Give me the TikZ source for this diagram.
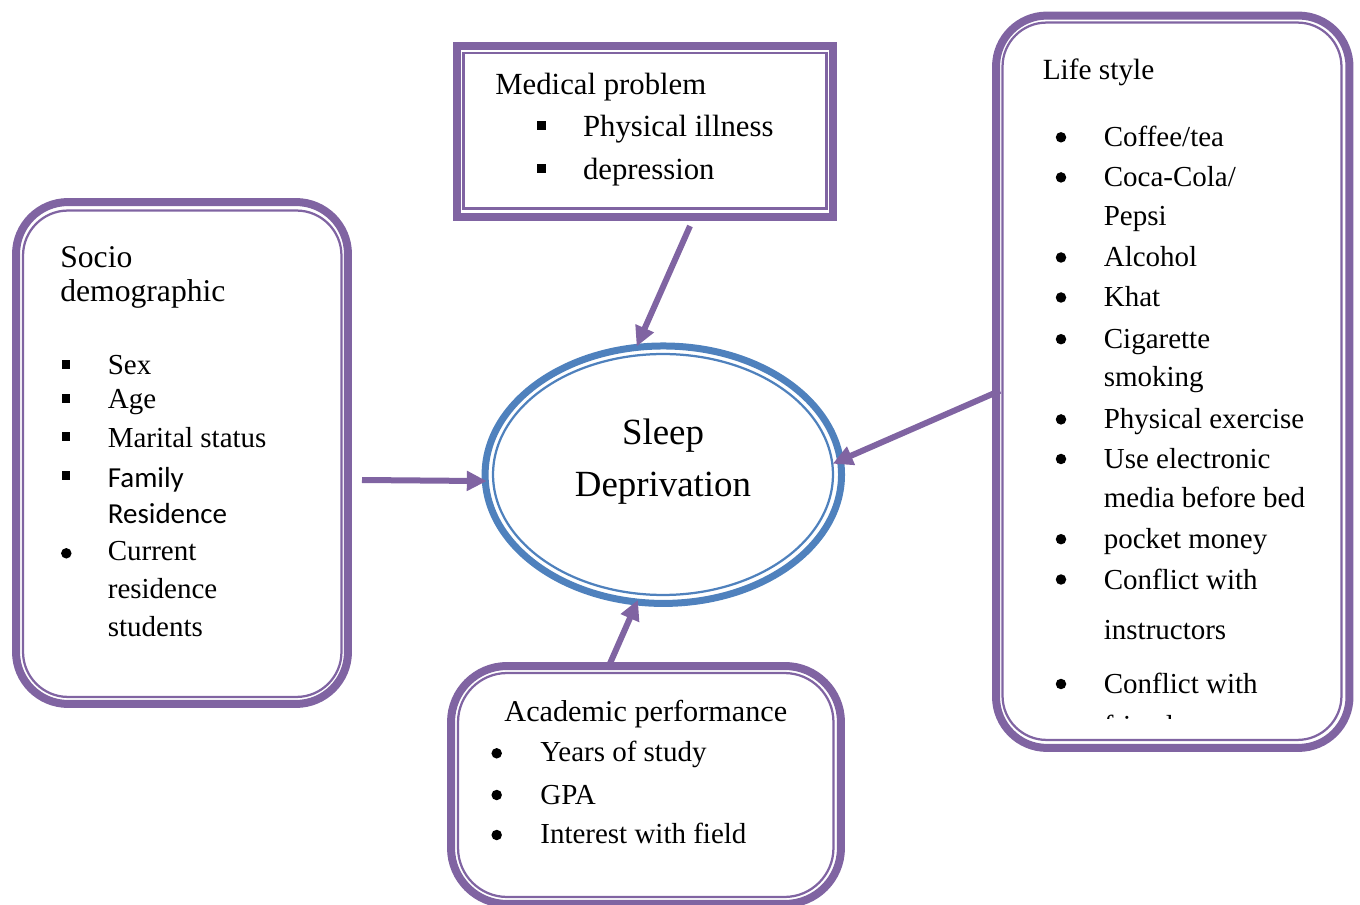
\documentclass[tikz,border=0pt]{standalone}
\usepackage{fontspec}
\setmainfont{Liberation Serif}
\newfontfamily\calib{Carlito}
\usetikzlibrary{shapes.geometric,arrows.meta}
\definecolor{lilac}{HTML}{8064A2}
\definecolor{bluish}{HTML}{4F81BD}

\begin{document}
\begin{tikzpicture}[x=0.02cm,y=-0.02cm,
	thickbox/.style={draw=lilac, line width=0.16cm, inner sep=0},
	thinbox/.style={draw=lilac, line width=0.045cm, inner sep=0},
	itm/.style={anchor=base west, inner sep=0, font=\fontsize{16.5}{20}\selectfont},
	sqbul/.style={fill=black, rectangle, minimum size=0.18cm, inner sep=0},
	rdbul/.style={fill=black, circle, minimum size=0.21cm, inner sep=0},
	arr/.style={draw=lilac, line width=0.12cm, -{Triangle[length=0.4cm,width=0.38cm]}}]
					%\draw[help lines] (0,0) grid[step=50] (1360,905);
					\useasboundingbox (0,0) rectangle (1360,905);
					
					%SLEEP DEPRIVATION
					\node[ellipse, draw=bluish, line width=0.14cm, minimum width=7.13cm, minimum height=5.15cm, inner sep=0] (sleep) at (663.3,474.7) {};
					\node[ellipse, draw=bluish, line width=0.045cm, minimum width=6.8cm, minimum height=4.82cm, inner sep=0] (sleepin) at (663,474.5) {};
					\node[anchor=base, inner sep=0, font=\fontsize{21}{25}\selectfont] (sl1) at (663,445) {Sleep};
					\node[anchor=base, inner sep=0, font=\fontsize{21}{25}\selectfont] (sl2) at (663,497) {Deprivation};
					
					%SOCIO DEMOGRAPHIC
					\node[thickbox, rounded corners=1.04cm, minimum width=6.64cm, minimum height=10.04cm] (socio) at (182,453) {};
					\node[thinbox, rounded corners=0.9cm, minimum width=6.37cm, minimum height=9.73cm] (socioin) at (182.25,453.75) {};
					\node[itm, font=\fontsize{18}{22}\selectfont] (s0) at (60,267.3) {Socio};
					\node[itm, font=\fontsize{18}{22}\selectfont] (s00) at (60,301.7) {demographic};
					\node[sqbul] (b1) at (66,365) {};
					\node[itm] (s1) at (107.5,374.3) {Sex};
					\node[sqbul] (b2) at (66,399) {};
					\node[itm] (s2) at (107.5,408.3) {Age};
					\node[sqbul] (b3) at (66,436.7) {};
					\node[itm] (s3) at (107.5,447.3) {Marital status};
					\node[sqbul] (b4) at (66,476) {};
					\node[itm, font=\calib\fontsize{16.5}{20}\selectfont] (s4) at (107.5,487.7) {Family};
					\node[itm, font=\calib\fontsize{16.5}{20}\selectfont] (s5) at (107.5,523.3) {Residence};
					\node[rdbul] (b5) at (66.3,553.3) {};
					\node[itm] (s6) at (107.5,560.7) {Current};
					\node[itm] (s7) at (107.5,598.3) {residence};
					\node[itm] (s8) at (107.5,636.7) {students};
					
					%MEDICAL PROBLEM
					\node[thickbox, minimum width=7.54cm, minimum height=3.43cm] (med) at (645,131.75) {};
					\node[thinbox, minimum width=7.26cm, minimum height=3.11cm] (medin) at (645,130.75) {};
					\node[itm, font=\fontsize{17.5}{21}\selectfont] (m0) at (495,95) {Medical problem};
					\node[sqbul] (mb1) at (541.7,126) {};
					\node[itm, font=\fontsize{17.5}{21}\selectfont] (m1) at (582.7,136.7) {Physical illness};
					\node[sqbul] (mb2) at (541.7,169) {};
					\node[itm, font=\fontsize{17.5}{21}\selectfont] (m2) at (582.7,180) {depression};
					
					%LIFE STYLE
					\node[thickbox, rounded corners=1.02cm, minimum width=7.07cm, minimum height=14.65cm] (life) at (1172.75,381.75) {};
					\node[thinbox, rounded corners=0.88cm, minimum width=6.78cm, minimum height=14.35cm] (lifein) at (1172,381.25) {};
					\node[itm, font=\fontsize{16.7}{20}\selectfont] (l0) at (1042.4,79.8) {Life style};
					\node[rdbul] (lb1) at (1061,137.3) {};
					\node[itm] (l1) at (1103.5,146.8) {Coffee/tea};
					\node[rdbul] (lb2) at (1061,177.4) {};
					\node[itm] (l2) at (1103.5,186.9) {Coca-Cola/};
					\node[itm] (l3) at (1103.5,226) {Pepsi};
					\node[rdbul] (lb3) at (1061,257.5) {};
					\node[itm] (l4) at (1103.5,267) {Alcohol};
					\node[rdbul] (lb4) at (1061,297.5) {};
					\node[itm] (l5) at (1103.5,307) {Khat};
					\node[rdbul] (lb5) at (1061,339.2) {};
					\node[itm] (l6) at (1103.5,348.7) {Cigarette};
					\node[itm] (l7) at (1103.5,387) {smoking};
					\node[rdbul] (lb6) at (1061,419.4) {};
					\node[itm] (l8) at (1103.5,428.9) {Physical exercise};
					\node[rdbul] (lb7) at (1061,459) {};
					\node[itm] (l9) at (1103.5,468.5) {Use electronic};
					\node[itm] (l10) at (1103.5,507.6) {media before bed};
					\node[rdbul] (lb8) at (1061,539.2) {};
					\node[itm] (l11) at (1103.5,548.7) {pocket money};
					\node[rdbul] (lb9) at (1061,579.5) {};
					\node[itm] (l12) at (1103.5,589) {Conflict with};
					\node[itm] (l13) at (1103.5,639.7) {instructors};
					\node[rdbul] (lb10) at (1061,684) {};
					\node[itm] (l14) at (1103.5,693.5) {Conflict with};
					\begin{scope}
						\clip (1010,700) rectangle (1340,718);
						\node[itm] (l15) at (1103.5,735.5) {friends};
					\end{scope}
					
					%ACADEMIC PERFORMANCE
					\node[thickbox, rounded corners=1.12cm, minimum width=7.8cm, minimum height=4.76cm] (acad) at (646,785) {};
					\node[thinbox, rounded corners=0.98cm, minimum width=7.51cm, minimum height=4.48cm] (acadin) at (645.75,785) {};
					\node[anchor=base, inner sep=0, font=\fontsize{17.2}{21}\selectfont] (a0) at (645.8,721.7) {Academic performance};
					\node[rdbul] (ab1) at (496.7,753.3) {};
					\node[itm] (a1) at (540,761.7) {Years of study};
					\node[rdbul] (ab2) at (496.7,795) {};
					\node[itm] (a2) at (540,804) {GPA};
					\node[rdbul] (ab3) at (496.7,835) {};
					\node[itm] (a3) at (540,843.3) {Interest with field};
					
					%ARROWS
					\coordinate (medfoot) at (690,226);
					\coordinate (socioout) at (362,480);
					\coordinate (lifeout) at (1000,390.7);
					\coordinate (acadtop) at (608,668);
					\draw[arr, shorten >=-0.06cm] (medfoot) -- (sleep.101.5);
					\draw[arr, shorten >=-0.1cm] (socioout) -- (sleep.182.7);
					\draw[arr, shorten >=-0.24cm] (lifeout) -- (sleep.5.6);
					\draw[arr, shorten >=-0.12cm] (acadtop) -- (sleep.258.8);
					
				  \end{tikzpicture}
\end{document}
